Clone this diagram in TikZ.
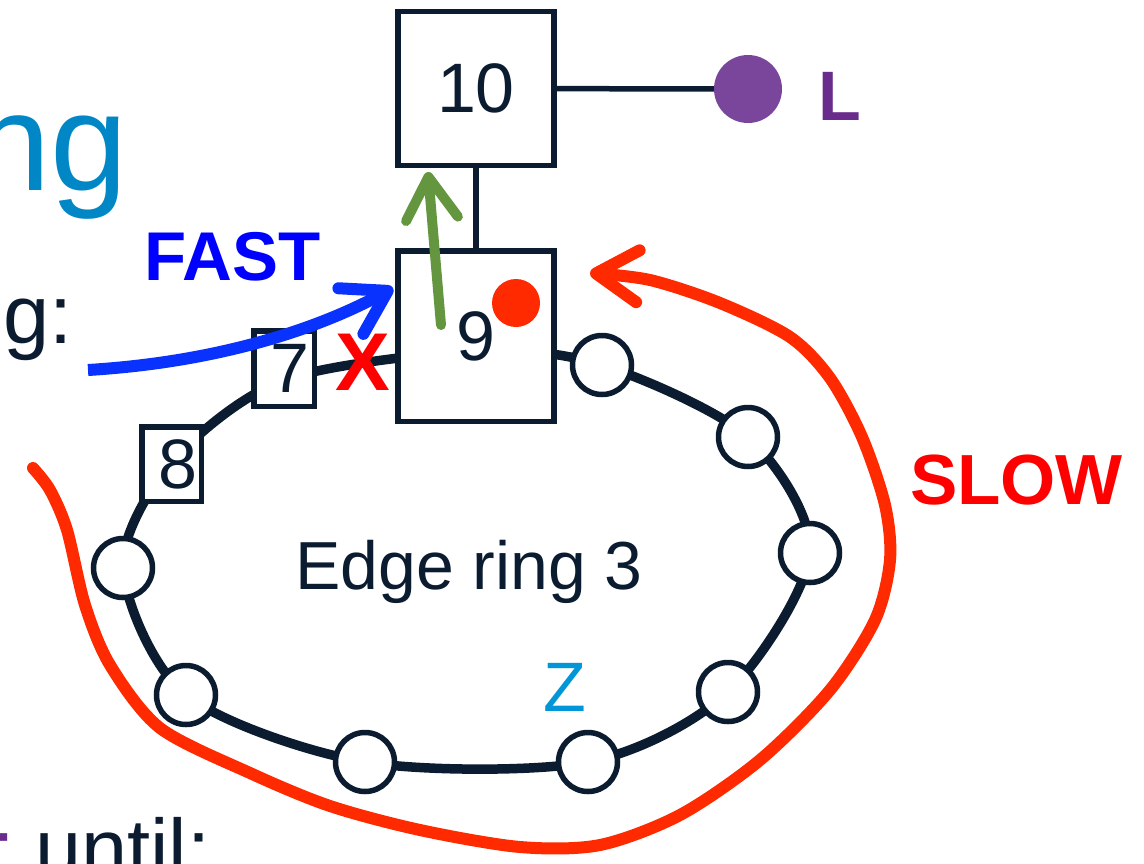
\documentclass[tikz,border=0pt]{standalone}
\usepackage{fontspec}
\setmainfont{Liberation Sans}
\usetikzlibrary{arrows.meta}
\definecolor{navy}{HTML}{0C1C30}
\definecolor{slideblue}{HTML}{0287C6}
\definecolor{zblue}{HTML}{0096D7}
\definecolor{fastblue}{HTML}{0000FF}
\definecolor{arrowblue}{HTML}{0A32FF}
\definecolor{slowred}{HTML}{FF0000}
\definecolor{curvered}{HTML}{FF2A00}
\definecolor{leaderpurple}{HTML}{7A469B}
\definecolor{lpurple}{HTML}{6A2C8C}
\definecolor{garrow}{HTML}{64963F}
\newcommand\setfs[1]{\fontsize{#1}{#1}\selectfont}
\begin{document}
\begin{tikzpicture}[x=1pt,y=-1pt,
  box/.style={draw=navy, line width=5.5pt, fill=white, inner sep=0pt, text=navy, font=\setfs{70pt}},
  ringnode/.style={circle, draw=navy, line width=5.5pt, fill=white, minimum size=59pt, inner sep=0pt},
  link/.style={draw=navy, line width=5.5pt},
  ringline/.style={draw=navy, line width=9.5pt},
  barb/.style={-{Straight Barb[length=42pt,width=52pt,round]}},
  txt/.style={inner sep=0pt, outer sep=0pt}]
\useasboundingbox (0,0) rectangle (1144,863);
\clip (0,0) rectangle (1144,863);

% slide text fragments
\node[txt, anchor=base east, text=slideblue, font=\setfs{139pt}] (ng) at (128,190) {ng};
\node[txt, anchor=base east, text=navy, font=\setfs{83pt}] (gc) at (73,343) {g:};
\node[txt, anchor=base east, text=lpurple, font=\setfs{83pt}\bfseries] (tt) at (9,877) {t};
\node[txt, anchor=base west, text=navy, font=\setfs{83pt}] (until) at (35,877) {until:};

% ring coordinates
\coordinate (r9) at (476,351);
\coordinate (r7) at (284,380);
\coordinate (r8) at (172,462);
\coordinate (p1) at (602,365);
\coordinate (p2) at (748,437);
\coordinate (p3) at (810,553);
\coordinate (p4) at (728,692);
\coordinate (p5) at (588,762);
\coordinate (p6) at (365,762);
\coordinate (p7) at (186,695);
\coordinate (p8) at (123,568);
\draw[ringline] plot[smooth cycle] coordinates {(r9) (p1) (p2) (p3) (p4) (p5) (p6) (p7) (p8) (r8) (r7)};

\foreach \i in {1,...,8} { \node[ringnode] (c\i) at (p\i) {}; }

% boxes
\node[box, minimum width=156pt, minimum height=154pt] (b10) at (476,88.5) {10};
\node[box, minimum width=156pt, minimum height=170.5pt] (b9) at (476,336) {9};
\node[box, minimum width=60.5pt, minimum height=75.5pt] (b7) at (284,368.5) {\hspace*{12pt}7};
\node[box, minimum width=59.5pt, minimum height=74.5pt] (b8) at (171.5,464) {\hspace*{12pt}8};

\draw[link] (b10) -- (b9);
\node[circle, fill=leaderpurple, minimum size=68pt, inner sep=0pt] (ldot) at (748,89) {};
\draw[link] (b10) -- (ldot);
\node[txt, anchor=base west, text=lpurple, font=\setfs{70pt}\bfseries] (L) at (818,120) {L};

\fill[curvered] (516,303) circle (24);

\node[txt, text=zblue, font=\setfs{70pt}] (Z) at (565,687) {Z};
\node[txt, anchor=base, text=navy, font=\setfs{68pt}] (edge) at (469,589) {Edge ring 3};

% labels
\node[txt, anchor=base west, text=fastblue, font=\setfs{69pt}\bfseries] (fast) at (144,280) {FAST};
\node[txt, anchor=base west, text=slowred, font=\setfs{71pt}\bfseries] (slow) at (910,504) {SLOW};
\node[txt, text=slowred, font=\setfs{82pt}\bfseries] (x) at (363,362) {X};

% arrows
\coordinate (gstart) at (441,325);
\coordinate (gtip) at (428,172);
\draw[garrow, line width=10pt, line cap=round, barb] (gstart) -- (gtip);

\coordinate (bstart) at (88,370);
\coordinate (btip) at (393,288);
\draw[arrowblue, line width=12pt, barb] (bstart) .. controls (220,362) and (320,328) .. (btip);

\coordinate (rstart) at (33,468);
\coordinate (rtip) at (590,273);
\draw[curvered, line width=12pt, line cap=round, barb] plot[smooth] coordinates {(rstart) (50,490) (67,530) (85,605) (110,665) (160,728) (250,773) (330,806) (420,830) (520,847) (600,845) (680,815) (760,760) (830,690) (875,620) (890,560) (885,505) (862,437) (830,378) (790,337) (720,303) (650,280) (rtip)};
\end{tikzpicture}
\end{document}
